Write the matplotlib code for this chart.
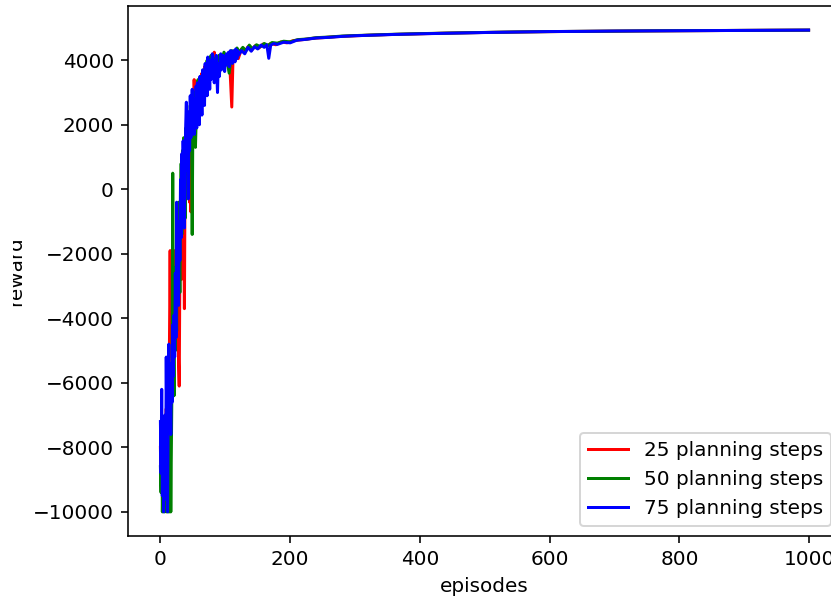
import matplotlib
matplotlib.use("Agg")
import matplotlib.pyplot as plt
from matplotlib.patches import Rectangle

# episode / reward points
red_ep = [0, 1, 2, 3, 4, 5, 6, 7, 8, 9, 10, 11, 12, 13, 14, 15, 16, 17, 18, 19,
          20, 21, 22, 23, 24, 25, 26, 27, 28, 29, 30, 31, 32, 33, 34, 35, 36, 37, 38, 39,
          40, 41, 42, 43, 44, 45, 46, 47, 48, 50, 52, 54, 56, 58, 60, 62, 64, 66, 68, 70,
          72, 74, 76, 78, 80, 83, 86, 90, 94, 98, 102, 106, 110, 112, 116, 120, 125, 130,
          135, 140, 146, 152, 158, 164, 170, 178, 186, 195, 205, 220, 235, 250, 270, 290,
          320, 350, 390, 440, 490, 540, 590, 640, 690, 740, 790, 840, 890, 940, 999]
red_val = [-8000, -9200, -8600, -7400, -9800, -8400, -9000, -7600, -8800, -6800,
           -8200, -7200, -5800, -6800, -4600, -1900, -5000, -3400, -5200, -2600,
           -4200, -1900, -3800, -2400, -4000, -3000, -4800, -3600, -5400, -6100,
           -2400, -1000, -2800, -600, -1800, 400, -1200, -3700, 600, 1400,
           -300, 1800, 800, 2200, 1100, -400, 2000, -700, 2500, 1800,
           3400, 2400, 3000, 2200, 3300, 2700, 3600, 3000, 3800, 3300,
           3700, 3200, 3900, 3500, 4000, 4250, 3700, 4100, 3800, 4200,
           3950, 4250, 2550, 4150, 4300, 4050, 4350, 4250, 4420, 4300,
           4450, 4380, 4500, 4430, 4520, 4480, 4570, 4540, 4610, 4640,
           4680, 4700, 4730, 4750, 4775, 4795, 4815, 4840, 4858, 4872,
           4886, 4894, 4902, 4909, 4914, 4919, 4924, 4929, 4933]

green_ep = [0, 1, 2, 3, 4, 5, 6, 7, 8, 9, 10, 11, 12, 13, 14, 15, 16, 17, 18, 19,
            20, 21, 22, 23, 24, 25, 26, 27, 28, 29, 30, 31, 32, 33, 34, 35, 36, 37, 38, 39,
            40, 42, 44, 46, 48, 49, 50, 52, 54, 56, 58, 60, 62, 64, 66, 68, 70, 72, 74, 76,
            78, 80, 83, 86, 90, 94, 98, 102, 106, 110, 114, 118, 122, 127, 132, 137, 142,
            148, 154, 160, 166, 172, 180, 190, 200, 212, 226, 240, 260, 280, 300, 330, 360,
            400, 450, 500, 550, 600, 650, 700, 750, 800, 850, 900, 950, 999]
green_val = [-8600, -9400, -7600, -10000, -8800, -7200, -10000, -9000, -8000, -10000,
             -7400, -9200, -10000, -8400, -10000, -6600, -10000, -7800, -5600, 500,
             -4800, -6400, -3600, -5000, -2400, -4400, -1200, -2800, -400, -2000,
             -3200, -600, 800, -1400, 1200, -200, 1600, 400, -900, 1900,
             1000, 2300, 1400, 2600, 1900, -1400, 2100, 3000, 1300, 2800,
             3400, 2600, 3500, 2900, 3700, 3200, 3600, 4000, 3300, 3800,
             4150, 3700, 4050, 3800, 4150, 3950, 4250, 4050, 3600, 4300,
             4100, 4380, 4250, 4400, 4300, 4470, 4350, 4480, 4420, 4520,
             4460, 4550, 4530, 4590, 4570, 4640, 4660, 4700, 4720, 4750,
             4765, 4785, 4805, 4825, 4845, 4862, 4878, 4888, 4897, 4903,
             4911, 4917, 4921, 4926, 4930, 4934]

# blue is read every episode up to 120, then sparser
blue_ep = list(range(0, 121)) + [125, 130, 135, 140, 145, 150, 155, 160, 164, 167,
                                 170, 175, 180, 190, 200, 210, 225, 240, 260, 280,
                                 300, 330, 360, 400, 450, 500, 550, 600, 650, 700,
                                 750, 800, 850, 900, 950, 999]
blue_val = [-7200, -8800, -6200, -9500, -7800, -10000, -8200, -7000, -9600, -5200,
            -8000, -10000, -6800, -4800, -7400, -6000, -7600, -5400, -6600, -4200,
            -5800, -3900, -5200, -2600, -4600, -400, -3000, -1800, -3600, -1000,
            -2200, 300, -1500, 1100, -800, 1500, 200, -1200, 900, 2000,
            2700, 600, 1800, -300, 2400, 1200, 2900, 1600, 2200, 3100,
            1900, 2600, 1700, 2800, 2100, 3200, 1900, 3300, 2400, 2900,
            2000, 3500, 2600, 3100, 2300, 3700, 2800, 3400, 2600, 3900,
            3000, 3600, 2900, 4100, 3300, 3800, 3100, 4000, 3400, 3700,
            4200, 3500, 3900, 3300, 4000, 3600, 4150, 3500, 3000, 3800,
            3900, 3500, 4100, 4200, 3700, 4000, 3800, 4150, 3900, 3650,
            4100, 3850, 4200, 3950, 3900, 4250, 3800, 4100, 4300, 3950,
            4200, 3900, 4000, 4300, 4100, 3950, 4350, 4150, 4050, 4300,
            4150,
            4300, 4200, 4400, 4280, 4420, 4350, 4470, 4400, 4480, 4060,
            4470, 4520, 4490, 4560, 4540, 4620, 4650, 4690, 4710, 4740,
            4760, 4780, 4800, 4820, 4840, 4860, 4875, 4890, 4895, 4905,
            4910, 4915, 4920, 4925, 4930, 4935]

labels = ["25 planning steps", "50 planning steps", "75 planning steps"]
x_ticks = [0, 200, 400, 600, 800, 1000]
y_ticks = [-10000, -8000, -6000, -4000, -2000, 0, 2000, 4000]

fig = plt.figure(figsize=(831 / 144, 598 / 144), dpi=144)
ax = fig.add_axes([128 / 831, 62 / 598, 713 / 831, 530 / 598])

ax.plot(red_ep, red_val, color="red", label=labels[0])
ax.plot(green_ep, green_val, color="green", label=labels[1])
ax.plot(blue_ep, blue_val, color="blue", label=labels[2])

ax.set_xticks(x_ticks)
ax.set_yticks(y_ticks)
ax.set_xlabel("episodes")
ax.set_ylabel("reward")
ax.legend(loc="lower right")

# the original screenshot cuts the figure on the left
fig.patches.append(Rectangle((0, 0), 13 / 831, 1, transform=fig.transFigure,
                             facecolor="white", edgecolor="none", zorder=10))

fig.savefig("out.png", dpi=144)
